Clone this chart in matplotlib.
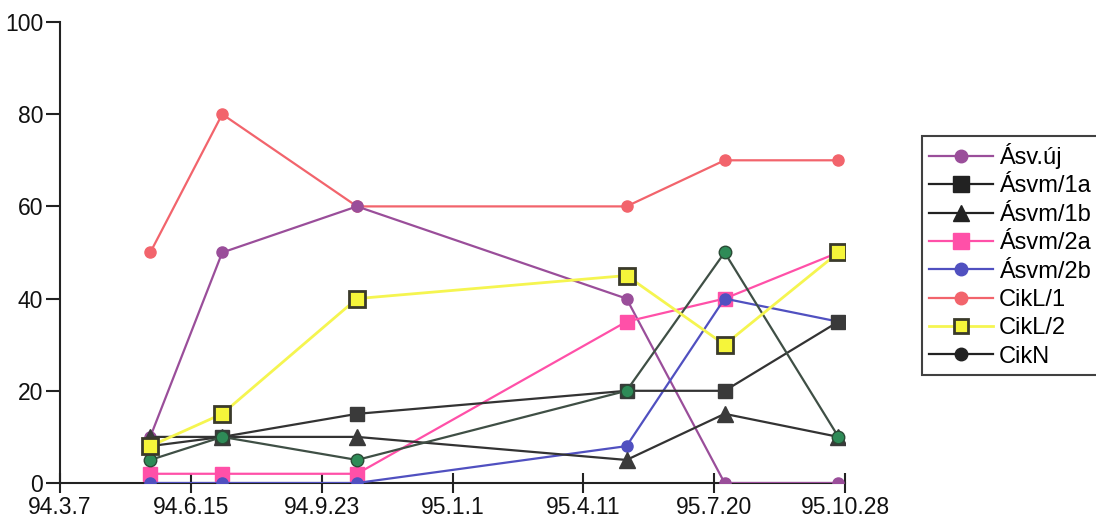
import matplotlib
matplotlib.use("Agg")
import matplotlib.pyplot as plt
import matplotlib.dates as mdates
from matplotlib.lines import Line2D
from matplotlib.ticker import FuncFormatter
from datetime import date

plt.rcParams['font.family'] = ['Liberation Sans', 'DejaVu Sans']

# sampling dates
dates = [date(1994, 5, 15), date(1994, 7, 9), date(1994, 10, 20),
         date(1995, 5, 14), date(1995, 7, 28), date(1995, 10, 23)]
tick_dates = [date(1994, 3, 7), date(1994, 6, 15), date(1994, 9, 23), date(1995, 1, 1),
              date(1995, 4, 11), date(1995, 7, 20), date(1995, 10, 28)]

asv_uj = [10, 50, 60, 40, 0, 0]
asvm_1a = [8, 10, 15, 20, 20, 35]
asvm_1b = [10, 10, 10, 5, 15, 10]
asvm_2a = [2, 2, 2, 35, 40, 50]
asvm_2b = [0, 0, 0, 8, 40, 35]
cikl_1 = [50, 80, 60, 60, 70, 70]
cikl_2 = [8, 15, 40, 45, 30, 50]
cikn = [5, 10, 5, 20, 50, 10]

labels = ['Ásv.új', 'Ásvm/1a', 'Ásvm/1b', 'Ásvm/2a', 'Ásvm/2b', 'CikL/1', 'CikL/2', 'CikN']

fig = plt.figure(figsize=(10.96, 5.23), dpi=100)
ax = fig.add_axes([60/1096, 1-483/523, (845-60)/1096, (483-22)/523])

x = mdates.date2num(dates)
lw = 1.6
ax.plot(x, cikl_1, color='#F2646C', lw=lw, marker='o', ms=8, mfc='#F2646C', mec='#F2646C', zorder=2)
ax.plot(x, asv_uj, color='#9A4E9A', lw=lw, marker='o', ms=8, mfc='#9A4E9A', mec='#9A4E9A', zorder=3)
ax.plot(x, asvm_2a, color='#FF50A8', lw=lw, marker='s', ms=10, mfc='#FF50A8', mec='#FF50A8', zorder=3)
ax.plot(x, asvm_2b, color='#5050C0', lw=lw, marker='o', ms=8, mfc='#5050C0', mec='#5050C0', zorder=4)
ax.plot(x, asvm_1a, color='#333333', lw=lw, marker='s', ms=10, mfc='#3a3a3a', mec='#3a3a3a', zorder=4)
ax.plot(x, asvm_1b, color='#333333', lw=lw, marker='^', ms=11, mfc='#3a3a3a', mec='#3a3a3a', zorder=4)
ax.plot(x, cikl_2, color='#F5F550', lw=2.0, marker='s', ms=11, mfc='#F5F53A', mec='#3a3a2a', mew=2, zorder=6)
ax.plot(x, cikn, color='#3f4f45', lw=lw, marker='o', ms=9, mfc='#2E8B57', mec='#2a4a35', zorder=5)

tx = mdates.date2num(tick_dates)
ax.set_xlim(tx[0], tx[-1])
ax.set_ylim(0, 100)
ax.set_xticks(tx)
ax.xaxis.set_major_formatter(FuncFormatter(
    lambda v, p: (lambda d: f"{d.year % 100}.{d.month}.{d.day}")(mdates.num2date(v))))
ax.set_yticks([0, 20, 40, 60, 80, 100])

for s in ['top', 'right']:
    ax.spines[s].set_visible(False)
for s in ['left', 'bottom']:
    ax.spines[s].set_color('#222222')
    ax.spines[s].set_linewidth(1.5)
ax.tick_params(axis='x', direction='inout', length=14, width=1.5, labelsize=16.5, pad=2, colors='#222222')
ax.tick_params(axis='y', direction='out', length=10, width=1.5, labelsize=16.5, pad=2, colors='#222222')
for t in ax.get_xticklabels() + ax.get_yticklabels():
    t.set_color('#111111')

handles = [
    Line2D([], [], color='#9A4E9A', lw=lw, marker='o', ms=9, mfc='#9A4E9A', mec='#9A4E9A'),
    Line2D([], [], color='#222222', lw=lw, marker='s', ms=11, mfc='#222222', mec='#222222'),
    Line2D([], [], color='#222222', lw=lw, marker='^', ms=11, mfc='#222222', mec='#222222'),
    Line2D([], [], color='#FF50A8', lw=lw, marker='s', ms=11, mfc='#FF50A8', mec='#FF50A8'),
    Line2D([], [], color='#5050C0', lw=lw, marker='o', ms=9, mfc='#5050C0', mec='#5050C0'),
    Line2D([], [], color='#F2646C', lw=lw, marker='o', ms=9, mfc='#F2646C', mec='#F2646C'),
    Line2D([], [], color='#F5F550', lw=2.0, marker='s', ms=10, mfc='#F5F53A', mec='#3a3a2a', mew=2),
    Line2D([], [], color='#222222', lw=lw, marker='o', ms=9, mfc='#222222', mec='#222222'),
]
leg = fig.legend(handles, labels, loc='upper left', bbox_to_anchor=(922/1096, 1-136/523),
                 bbox_transform=fig.transFigure, fontsize=17, frameon=True, fancybox=False,
                 edgecolor='#111111', handlelength=2.7, handletextpad=0.25, labelspacing=0.27,
                 borderpad=0.3, borderaxespad=0)
leg.get_frame().set_linewidth(1.5)

fig.savefig('out.png', dpi=100)
